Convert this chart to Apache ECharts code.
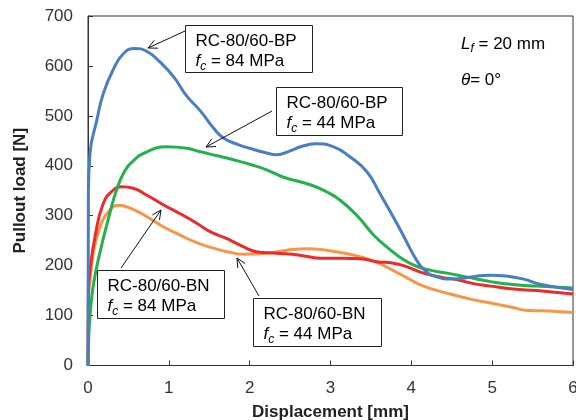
<!DOCTYPE html>
<html><head><meta charset="utf-8">
<script src="https://cdn.jsdelivr.net/npm/echarts@6/dist/echarts.min.js"></script>
<style>html,body{margin:0;padding:0;background:#fff}#c{width:576px;height:420px}</style>
</head><body><div id="c"></div>
<script>
// Displacement [mm], Pullout load [N]
const bp84 = [[0,0],[0.005,340],[0.025,425],[0.11,492],[0.19,545],[0.31,592],[0.44,625],[0.58,635],[0.73,629],[0.89,608],[1.06,578],[1.22,540],[1.39,510],[1.55,476],[1.68,455],[1.85,443],[2.0,435],[2.2,426],[2.335,422],[2.5,430],[2.65,439],[2.83,444],[3.04,438],[3.24,418],[3.45,388],[3.61,345],[3.82,285],[3.95,245],[4.05,215],[4.15,193],[4.3,178],[4.52,173],[4.77,178],[4.98,181],[5.18,179],[5.39,173],[5.59,163],[6,152]];
const bp44 = [[0,0],[0.01,60],[0.03,110],[0.07,165],[0.15,228],[0.27,305],[0.35,350],[0.44,385],[0.56,410],[0.73,428],[0.97,438],[1.22,435],[1.39,428],[1.6,420],[1.8,412],[2.0,403],[2.21,392],[2.42,377],[2.75,362],[2.95,348],[3.12,331],[3.33,300],[3.53,262],[3.7,237],[3.85,218],[4.03,201],[4.23,191],[4.44,185],[4.69,177],[4.98,168],[5.26,162],[5.55,159],[6,155]];
const bn84 = [[0,0],[0.005,150],[0.025,191],[0.087,258],[0.19,325],[0.31,351],[0.42,358],[0.56,355],[0.73,341],[0.93,322],[1.14,304],[1.345,285],[1.51,268],[1.72,254],[1.92,238],[2.08,228],[2.335,225],[2.62,221],[2.87,215],[3.16,215],[3.37,214],[3.57,208],[3.78,205],[3.94,198],[4.15,185],[4.36,177],[4.56,172],[4.77,164],[4.98,159],[5.26,153],[5.55,150],[6,143]];
const bn44 = [[0,0],[0.005,130],[0.025,171],[0.066,225],[0.15,278],[0.27,311],[0.375,321],[0.52,315],[0.73,298],[0.93,278],[1.14,261],[1.345,246],[1.51,237],[1.72,228],[1.92,223],[2.21,225],[2.46,231],[2.71,234],[2.95,231],[3.24,223],[3.45,214],[3.61,204],[3.78,190],[3.94,176],[4.15,159],[4.44,145],[4.73,133],[4.98,125],[5.26,116],[5.45,110],[5.7,109],[6,106]];
const seriesNames = ['RC-80/60-BN fc=44','RC-80/60-BN fc=84','RC-80/60-BP fc=44','RC-80/60-BP fc=84'];
const xTitle = 'Displacement [mm]';
const yTitle = 'Pullout load [N]';

const FONT = 'Liberation Sans, Arial, sans-serif';
const chart = echarts.init(document.getElementById('c'), null, {renderer:'canvas'});

function arrow(x1,y1,x2,y2){
  const a = Math.atan2(y1-y2, x1-x2), L = 10, s = 0.45;
  return [
    {type:'line', shape:{x1,y1,x2,y2}, style:{stroke:'#111', lineWidth:1}, z:100},
    {type:'polyline', shape:{points:[[x2+L*Math.cos(a+s), y2+L*Math.sin(a+s)],[x2,y2],[x2+L*Math.cos(a-s), y2+L*Math.sin(a-s)]]}, style:{stroke:'#111', lineWidth:1, fill:null}, z:100}
  ];
}
const rich = {
  n:{fontSize:17, fontFamily:FONT, color:'#222', lineHeight:22},
  i:{fontSize:17, fontFamily:FONT, color:'#222', fontStyle:'italic', lineHeight:22},
  s:{fontSize:12, fontFamily:FONT, color:'#222', fontStyle:'italic', lineHeight:12, verticalAlign:'bottom'}
};
function box(x,y,w,h,name,fc){
  return [
    {type:'rect', shape:{x,y,width:w,height:h}, style:{fill:'#fff', stroke:'#222', lineWidth:1}, z:100},
    {type:'text', x:x+10, y:y+5, style:{text:'{n|'+name+'}', rich, textVerticalAlign:'top'}, z:101},
    {type:'text', x:x+10, y:y+25, style:{text:'{i|f}{s|c}{n| = '+fc+' MPa}', rich, textVerticalAlign:'top'}, z:101}
  ];
}
const graphics = [].concat(
  box(185.5,25.5,127,47,'RC-80/60-BP','84'), arrow(185,31,148,48),
  box(276.5,87.5,126,48,'RC-80/60-BP','44'), arrow(272,111,206,147),
  box(97.5,270.5,127,48,'RC-80/60-BN','84'), arrow(121,268,161,210),
  box(253.5,298.5,128,48,'RC-80/60-BN','44'), arrow(259,296,237,258),
  [
    {type:'text', x:461, y:33, style:{text:'{i|L}{s|f}{n| = 20 mm}', rich}, z:101},
    {type:'text', x:461, y:69, style:{text:'{i|θ}{n|= 0°}', rich}, z:101}
  ]
);

function mk(name, data, color){
  return {name, type:'line', data, smooth:0.5, showSymbol:false, symbol:'none',
    lineStyle:{color, width:3}, itemStyle:{color}};
}
chart.setOption({
  animation:false,
  backgroundColor:'#fff',
  grid:{left:88, right:3, top:16, bottom:54.5, show:true, borderColor:'#333', borderWidth:1, outerBoundsMode:'none', containLabel:false},
  xAxis:{type:'value', min:0, max:6, interval:1, name:xTitle, nameLocation:'middle', nameGap:38,
    nameTextStyle:{fontFamily:FONT, fontSize:17, fontWeight:'bold', color:'#222'},
    axisLine:{lineStyle:{color:'#333', width:1}}, axisTick:{inside:true, length:5, lineStyle:{color:'#333'}},
    axisLabel:{fontFamily:FONT, fontSize:17, color:'#333', margin:14}, splitLine:{show:false}},
  yAxis:{type:'value', min:0, max:700, interval:100, name:yTitle, nameLocation:'middle', nameGap:59,
    nameTextStyle:{fontFamily:FONT, fontSize:17, fontWeight:'bold', color:'#222'},
    axisLine:{show:true, lineStyle:{color:'#333', width:1}}, axisTick:{show:true, inside:true, length:5, lineStyle:{color:'#333'}},
    axisLabel:{fontFamily:FONT, fontSize:17, color:'#333', margin:15}, splitLine:{show:false}},
  series:[
    mk(seriesNames[0], bn44, '#F79646'),
    mk(seriesNames[1], bn84, '#EC2A2A'),
    mk(seriesNames[2], bp44, '#22B14C'),
    mk(seriesNames[3], bp84, '#4A7EC4')
  ],
  graphic:graphics
});
</script></body></html>
